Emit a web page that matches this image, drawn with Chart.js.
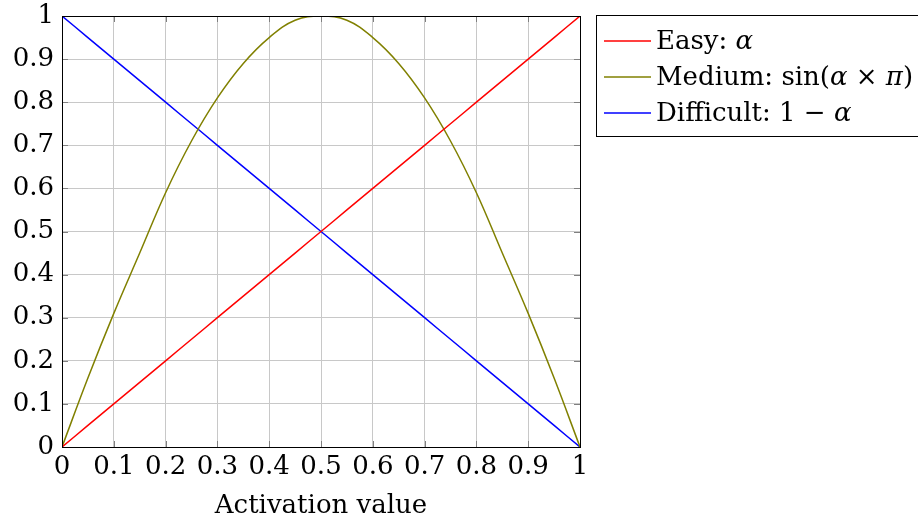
<!DOCTYPE html>
<html>
<head>
<meta charset="utf-8">
<script src="https://cdn.jsdelivr.net/npm/chart.js"></script>
<style>
  html, body { margin: 0; padding: 0; background: #fff; }
  #wrap { width: 918px; height: 522px; position: relative; }
</style>
</head>
<body>
<div id="wrap"><canvas id="chart"></canvas></div>
<script>
const activation = [0, 0.05, 0.1, 0.15, 0.2, 0.25, 0.3, 0.35, 0.4, 0.45, 0.5, 0.55, 0.6, 0.65, 0.7, 0.75, 0.8, 0.85, 0.9, 0.95, 1];
const easyValues = [0, 0.05, 0.1, 0.15, 0.2, 0.25, 0.3, 0.35, 0.4, 0.45, 0.5, 0.55, 0.6, 0.65, 0.7, 0.75, 0.8, 0.85, 0.9, 0.95, 1];
const mediumValues = [0, 0.16, 0.31, 0.45, 0.59, 0.71, 0.81, 0.89, 0.95, 0.99, 1, 0.99, 0.95, 0.89, 0.81, 0.71, 0.59, 0.45, 0.31, 0.16, 0];
const difficultValues = [1, 0.95, 0.9, 0.85, 0.8, 0.75, 0.7, 0.65, 0.6, 0.55, 0.5, 0.45, 0.4, 0.35, 0.3, 0.25, 0.2, 0.15, 0.1, 0.05, 0];
const tickLabels = ['0', '0.1', '0.2', '0.3', '0.4', '0.5', '0.6', '0.7', '0.8', '0.9', '1'];

// legend entries: pieces of text, italic for math symbols
const legendItems = [
  { color: '#ff0000', parts: [['Easy: ', false], ['α', true]] },
  { color: '#808000', parts: [['Medium: sin(', false], ['α', true], [' × ', false], ['π', true], [')', false]] },
  { color: '#0000ff', parts: [['Difficult: 1 − ', false], ['α', true]] }
];

const FONT = '"DejaVu Serif", "Liberation Serif", serif';
const SIZE = 26;

const toPoints = vals => vals.map((v, i) => ({ x: activation[i], y: v }));

const legendPlugin = {
  id: 'boxLegend',
  afterDraw(chart) {
    const ctx = chart.ctx;
    ctx.save();
    ctx.strokeStyle = '#000';
    ctx.lineWidth = 1;
    ctx.strokeRect(596.5, 15.5, 330, 121);
    ctx.textBaseline = 'middle';
    legendItems.forEach((item, i) => {
      const y = 41 + i * 36;
      ctx.strokeStyle = item.color;
      ctx.lineWidth = 1.5;
      ctx.beginPath();
      ctx.moveTo(604, y);
      ctx.lineTo(651, y);
      ctx.stroke();
      let x = 656;
      ctx.fillStyle = '#000';
      item.parts.forEach(([txt, it]) => {
        ctx.font = (it ? 'italic ' : '') + SIZE + 'px ' + FONT;
        ctx.fillText(txt, x, y + 1);
        x += ctx.measureText(txt).width;
      });
    });
    ctx.restore();
  }
};

const innerTicks = {
  id: 'innerTicks',
  afterDatasetsDraw(chart) {
    const { ctx, chartArea: a, scales } = chart;
    ctx.save();
    ctx.strokeStyle = '#808080';
    ctx.lineWidth = 1;
    ctx.beginPath();
    for (let i = 1; i < tickLabels.length - 1; i++) {
      const v = parseFloat(tickLabels[i]);
      const px = Math.round(scales.x.getPixelForValue(v)) + 0.5;
      const py = Math.round(scales.y.getPixelForValue(v)) + 0.5;
      ctx.moveTo(px, a.bottom); ctx.lineTo(px, a.bottom - 6);
      ctx.moveTo(px, a.top); ctx.lineTo(px, a.top + 6);
      ctx.moveTo(a.left, py); ctx.lineTo(a.left + 6, py);
      ctx.moveTo(a.right, py); ctx.lineTo(a.right - 6, py);
    }
    ctx.stroke();
    ctx.restore();
  }
};

const ds = (vals, color) => ({
  data: toPoints(vals),
  borderColor: color,
  borderWidth: 1.5,
  pointRadius: 0,
  tension: 0.4,
  fill: false
});

new Chart(document.getElementById('chart'), {
  type: 'line',
  data: {
    datasets: [
      ds(easyValues, '#ff0000'),
      ds(mediumValues, '#808000'),
      ds(difficultValues, '#0000ff')
    ]
  },
  options: {
    responsive: true,
    maintainAspectRatio: false,
    animation: false,
    layout: { padding: { top: 16, right: 338, left: 0, bottom: 0 } },
    plugins: {
      legend: { display: false },
      tooltip: { enabled: false }
    },
    scales: {
      x: {
        type: 'linear',
        min: 0,
        max: 1,
        afterFit: s => { s.height = 75; s.paddingLeft = 0; s.paddingRight = 0; },
        afterBuildTicks: s => { s.ticks = tickLabels.map(t => ({ value: parseFloat(t) })); },
        ticks: {
          color: '#000',
          font: { family: FONT, size: SIZE },
          padding: 5,
          maxRotation: 0,
          autoSkip: false,
          callback: (v, i) => tickLabels[i]
        },
        grid: { color: '#c8c8c8', drawTicks: false },
        border: { color: '#000', width: 1 },
        title: {
          display: true,
          text: 'Activation value',
          color: '#000',
          font: { family: FONT, size: SIZE },
          padding: { top: 4, bottom: 0 }
        }
      },
      y: {
        type: 'linear',
        min: 0,
        max: 1,
        afterFit: s => { s.width = 62; s.paddingTop = 0; s.paddingBottom = 0; },
        afterBuildTicks: s => { s.ticks = tickLabels.map(t => ({ value: parseFloat(t) })); },
        ticks: {
          color: '#000',
          font: { family: FONT, size: SIZE },
          padding: 8,
          autoSkip: false,
          callback: (v, i) => tickLabels[i]
        },
        grid: { color: '#c8c8c8', drawTicks: false },
        border: { color: '#000', width: 1 }
      }
    }
  },
  plugins: [innerTicks, legendPlugin, {
    id: 'frame',
    afterDraw(chart) {
      const { ctx, chartArea: a } = chart;
      ctx.save();
      ctx.strokeStyle = '#000';
      ctx.lineWidth = 1;
      ctx.strokeRect(Math.round(a.left) + 0.5, Math.round(a.top) + 0.5, Math.round(a.right - a.left), Math.round(a.bottom - a.top));
      ctx.restore();
    }
  }]
});
</script>
</body>
</html>
